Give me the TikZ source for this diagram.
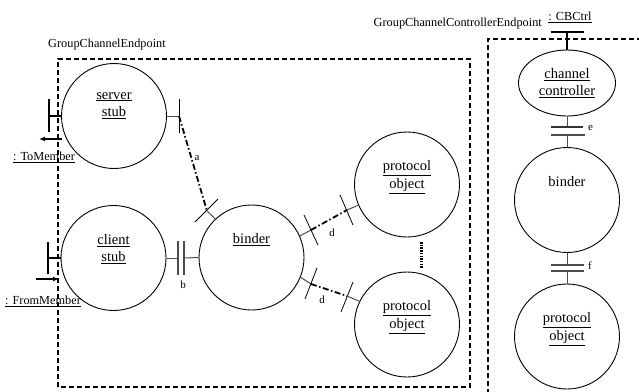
\documentclass[tikz,border=0pt]{standalone}
\usepackage{fontspec}
\setmainfont{Liberation Serif}
\usetikzlibrary{shapes.geometric,arrows.meta}
\begin{document}
\begin{tikzpicture}[x=1pt,y=-1pt,
  obj/.style={circle,draw,line width=0.9pt,minimum size=105pt,inner sep=0pt},
  objtxt/.style={anchor=north,align=center,inner sep=0pt,font=\fontsize{14.5}{17.5}\selectfont},
  lbl/.style={inner sep=0pt,font=\fontsize{12.3}{14}\selectfont},
  lett/.style={inner sep=0pt,font=\fontsize{11}{13}\selectfont},
  box/.style={line width=1.6pt,dash pattern=on 5pt off 3pt},
  conn/.style={line width=1.8pt,dash pattern=on 6pt off 2.5pt on 1.5pt off 2.5pt},
  stub/.style={line width=1pt,gray!60!black},
  tick/.style={line width=0.8pt},
  bar/.style={line width=1.2pt,gray!60!black},
  extport/.style={line width=2.8pt},
  extstub/.style={line width=2pt},
  flow/.style={line width=1.5pt,-{Latex[length=6pt,width=5pt]}},
  ]
\clip (0,0) rectangle (639,391);
% boxes
\draw[box] (58,387) -- (58,59) -- (470,59) -- (470,387) -- cycle;
\draw[box] (650,39) -- (488,39) -- (488,400);
\node[lbl] (gce) at (107,45) {GroupChannelEndpoint};
\node[lbl,anchor=east] (gcce) at (542,24) {GroupChannelControllerEndpoint};
% left objects
\node[obj] (ss) at (114,116) {};
\node[objtxt] (sst) at ([yshift=24pt]ss.center) {\underline{server}\\\underline{stub}};
\node[obj] (cs) at (113.5,258) {};
\node[objtxt] (cst) at ([yshift=24pt]cs.center) {\underline{client}\\\underline{stub}};
\node[obj] (bd) at (251.5,257.5) {};
\node[objtxt] (bdt) at ([yshift=24pt]bd.center) {\underline{binder}};
\node[obj] (po1) at (407,184.5) {};
\node[objtxt] (po1t) at ([yshift=24pt]po1.center) {\underline{protocol}\\\underline{object}};
\node[obj] (po2) at (407,324.5) {};
\node[objtxt] (po2t) at ([yshift=24pt]po2.center) {\underline{protocol}\\\underline{object}};
% right objects
\node[ellipse,draw,line width=0.9pt,minimum width=97pt,minimum height=66pt,inner sep=0pt,align=center,font=\fontsize{14.5}{17.5}\selectfont] (cc) at (567,83) {\underline{channel}\\\underline{controller}};
\node[obj] (bd2) at (567,200) {};
\node[objtxt] (bd2t) at ([yshift=24pt]bd2.center) {binder};
\node[obj] (po3) at (567,336.5) {};
\node[objtxt] (po3t) at ([yshift=24pt]po3.center) {\underline{protocol}\\\underline{object}};
% external ports left
\coordinate (sp) at (49,116);
\draw[extport] (49,99) -- (49,132);
\draw[extstub] (sp) -- (ss.west);
\coordinate (tma) at (62,139); \coordinate (tmb) at (39,139);
\draw[flow] (tma) -- (tmb);
\node[lbl] (tm) at (44,157) {\underline{: ToMember}};
\coordinate (cp) at (48,258);
\draw[extport] (48,242) -- (48,274);
\draw[extstub] (cp) -- (cs.west);
\coordinate (fma) at (36,279); \coordinate (fmb) at (59,279);
\draw[flow] (fma) -- (fmb);
\node[lbl] (fm) at (43,301) {\underline{: FromMember}};
% connector a
\coordinate (a1) at (179,116);
\coordinate (a2) at (207,211);
\draw[stub] (ss.east) -- (a1);
\draw[tick] (179,99) -- (179,133);
\draw[tick] (195,222) -- (218,199);
\draw[stub] (a2) -- (bd.133);
\draw[conn] (a1) -- (a2);
\node[lett] (la) at (197,158) {a};
% connector b
\coordinate (b1) at (178,258);
\coordinate (b2) at (184,258);
\draw[stub] (cs.east) -- (b1);
\draw[bar] (178,241) -- (178,275);
\draw[bar] (184,241) -- (184,275);
\draw[stub] (b2) -- (bd.west);
\node[lett] (lb) at (183,285) {b};
% connector d upper
\coordinate (d1) at (311,230);
\coordinate (d2) at (347,210);
\draw[stub] (bd.24) -- (d1);
\draw[tick] (304,215) -- (318,245);
\draw[tick] (340,195) -- (353,225);
\draw[stub] (d2) -- (po1.203);
\draw[conn] (d1) -- (d2);
\node[lett] (ld1) at (332,233) {d};
% connector d lower
\coordinate (d3) at (311,284);
\coordinate (d4) at (347,296);
\draw[stub] (bd.-22) -- (d3);
\draw[tick] (317,268) -- (305,299);
\draw[tick] (353,282) -- (341,312);
\draw[stub] (d4) -- (po2.154);
\draw[conn] (d3) -- (d4);
\node[lett] (ld2) at (322,300) {d};
% dotted between protocol objects
\coordinate (p1) at (421,242); \coordinate (p2) at (421,268);
\draw[line width=3pt,dash pattern=on 1.5pt off 1.2pt] (p1) -- (p2);
% CBCtrl port
\coordinate (cb) at (567,32);
\draw[extport] (551,32) -- (584,32);
\draw[extstub] (cb) -- (cc.north);
\node[lbl] (cbl) at (570,17) {\underline{: CBCtrl}};
% connector e
\coordinate (e1) at (567,127); \coordinate (e2) at (567,135);
\draw[stub] (cc.south) -- (e1);
\draw[line width=1.2pt,black!80] (551,127) -- (583,127);
\draw[bar] (551,135) -- (585,135);
\draw[stub] (e2) -- (bd2.north);
\node[lett,anchor=west] (le) at (588,128) {e};
% connector f
\coordinate (f1) at (567,265); \coordinate (f2) at (567,271);
\draw[stub] (bd2.south) -- (f1);
\draw[bar] (551,265) -- (584,265);
\draw[bar] (551,271) -- (584,271);
\draw[stub] (f2) -- (po3.north);
\node[lett,anchor=west] (lf) at (588,266) {f};
\end{tikzpicture}
\end{document}
